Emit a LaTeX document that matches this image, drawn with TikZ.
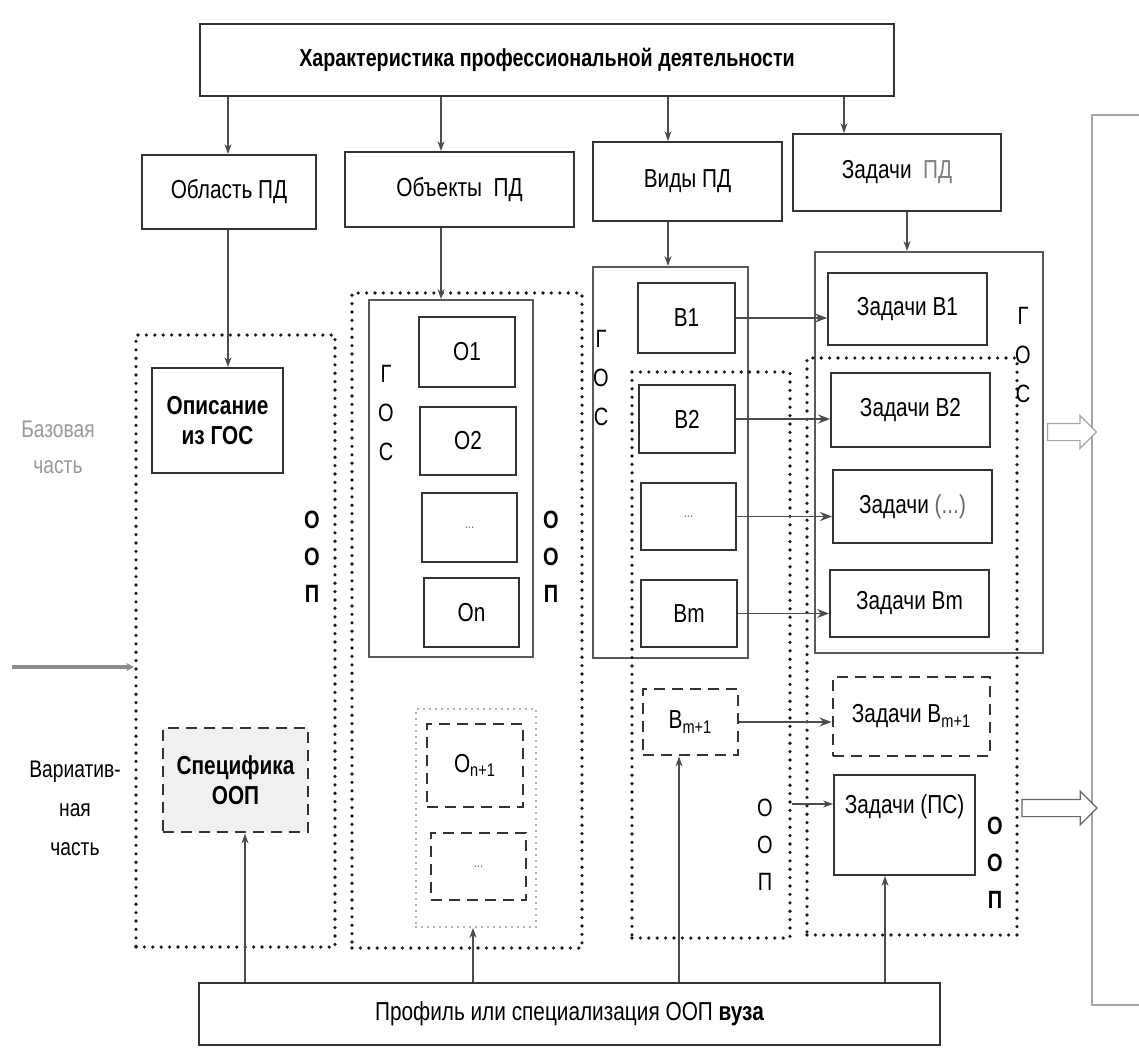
\documentclass[tikz,border=0pt]{standalone}
\usepackage{fontspec}
\setmainfont{Liberation Sans}[FakeStretch=0.8]
\usetikzlibrary{arrows.meta,positioning,calc,shapes.arrows}
\tikzset{
  sz/.style 2 args={minimum width=#1*0.5pt,minimum height=#2*0.5pt},
  blk/.style={draw=black!80,line width=0.9pt,rectangle,inner sep=0pt,align=center,font=\fontsize{13}{15}\selectfont},
  bblk/.style={blk,font=\fontsize{13}{15}\selectfont\bfseries},
  gosblk/.style={draw=black!65,line width=1pt,rectangle,inner sep=0pt},
  oopblk/.style={draw=black!90,line width=1.8pt,line cap=round,dash pattern=on 0pt off 4.2pt,rectangle,inner sep=0pt},
  ooplight/.style={oopblk,line width=0.9pt,draw=black!60,dash pattern=on 0pt off 3pt},
  varblk/.style={blk,line width=1.4pt,dash pattern=on 5.5pt off 3.5pt},
  arr/.style={-{Stealth[length=5pt,width=3.5pt]},line width=0.6pt,draw=black!70},
  harr/.style={arr,line width=0.9pt,-{Stealth[length=6pt,width=4.5pt]}},
  outarr/.style={single arrow,draw=black!60,line width=0.6pt,fill=white,inner xsep=0pt,inner ysep=4pt,text height=0pt,text depth=0pt,single arrow head extend=4pt,single arrow head indent=0pt,minimum height=#1*0.5pt},
  seplin/.style={draw=black!45,line width=1.6pt,-{Stealth[length=4pt,width=4pt]}},
  vlbl/.style={align=center,font=\fontsize{12.5}{19.5}\selectfont},
  olbl/.style={align=center,font=\fontsize{12.5}{18.5}\selectfont\bfseries},
  sidelbl/.style={align=center,font=\fontsize{12}{18}\selectfont}
}

\begin{document}
\begin{tikzpicture}[x=0.5pt,y=-0.5pt]
  \useasboundingbox (0,0) rectangle (1139,1055);

  \node[bblk,sz={694}{72},font=\fontsize{12.3}{16}\selectfont\bfseries] (char) at (547,60) {Характеристика профессиональной деятельности};
  \node[blk,sz={174}{74}] (area) at (229,192) {Область ПД};
  \node[blk,sz={229}{75}] (obj) at (459.5,189.5) {Объекты\ \ ПД};
  \node[blk,sz={189}{79}] (kinds) at (687.5,181.5) {Виды ПД};
  \node[blk,sz={208}{77}] (tasks) at (897,172.5) {Задачи\ \ \textcolor{black!50}{ПД}};
  \node[draw=black!35,line width=0.6pt,inner sep=0pt,sz={60}{890}] (sys) at (1122,560) {};

  % column 1: area of activity
  \node[oopblk,sz={199}{612}] (oop1) at (235.5,641) {};
  \node[bblk,sz={131}{105}] (desc) at (217.5,420.5) {Описание\\из ГОС};
  \node[varblk,sz={145}{104},fill=black!6,font=\fontsize{13}{15}\selectfont\bfseries] (spec) at (235.5,780) {Специфика\\ООП};
  \node[olbl] (oop1l) at (312,557) {О\\О\\П};

  % column 2: objects
  \node[oopblk,sz={230}{655}] (oop2) at (467,620.5) {};
  \node[gosblk,sz={164}{357}] (gos2) at (451,478.5) {};
  \node[blk,sz={96}{70}] (o1) at (467,352) {О1};
  \node[blk,sz={96}{68}] (o2) at (468,441) {О2};
  \node[blk,sz={95}{69},font=\scriptsize,text=black!60] (o3) at (469.5,527.5) {...};
  \node[blk,sz={95}{69}] (on) at (471.5,612.5) {Оn};
  \node[vlbl] (gos2l) at (386,413) {Г\\О\\С};
  \node[olbl] (oop2l) at (551,557) {О\\О\\П};
  \node[ooplight,sz={120}{218}] (var2) at (476,818) {};
  \node[varblk,sz={96}{83}] (on1) at (475,765.5) {О\textsubscript{n+1}};
  \node[varblk,sz={95}{67},font=\scriptsize,text=black!60] (on2) at (478.5,866.5) {...};

  % column 3: kinds
  \node[gosblk,sz={155}{391}] (gos3) at (670.5,462.5) {};
  \node[oopblk,sz={158}{566}] (oop3) at (711,655) {};
  \node[blk,sz={97}{70}] (b1) at (686.5,318) {В1};
  \node[blk,sz={96}{68}] (b2) at (687,419) {В2};
  \node[blk,sz={95}{67},font=\scriptsize,text=black!60] (b3) at (688.5,516.5) {...};
  \node[blk,sz={96}{67}] (bm) at (689,613.5) {Вm};
  \node[vlbl] (gos3l) at (601,378) {Г\\О\\С};
  \node[varblk,sz={95}{66}] (bm1) at (690.5,722) {В\textsubscript{m+1}};
  \node[olbl,font=\fontsize{12.5}{18.5}\selectfont] (oop3l) at (765,845) {О\\О\\П};

  % column 4: tasks
  \node[gosblk,sz={228}{401}] (gos4) at (929,452.5) {};
  \node[oopblk,sz={210}{577}] (oop4) at (912,646.5) {};
  \node[blk,sz={159}{72}] (t1) at (907.5,309) {Задачи В1};
  \node[blk,sz={159}{74}] (t2) at (910.5,410) {Задачи В2};
  \node[blk,sz={159}{73}] (t3) at (912.5,506.5) {Задачи \textcolor{black!60}{(...)}};
  \node[blk,sz={159}{67}] (tm) at (909.5,603.5) {Задачи Вm};
  \node[vlbl] (gos4l) at (1023,355) {Г\\О\\С};
  \node[varblk,sz={157}{79}] (tm1) at (911.5,716.5) {Задачи В\textsubscript{m+1}};
  \node[blk,sz={141}{100},label={[anchor=center,yshift=-16.5pt,font=\fontsize{13}{15}\selectfont]north:Задачи (ПС)}] (tps) at (904.5,825) {};
  \node[olbl] (oop4l) at (995,863) {О\\О\\П};

  \node[blk,sz={741}{62}] (prof) at (569.5,1014) {Профиль или специализация ООП \textbf{вуза}};

  \node[sidelbl,text=black!40] (base) at (58,447) {Базовая\\часть};
  \node[sidelbl,font=\fontsize{12}{19.5}\selectfont] (varp) at (75,808) {Вариатив-\\ная\\часть};
  \coordinate (sepL) at (12,667);
  \draw[seplin] (sepL) -- (sepL -| oop1.west);

  \draw[arr] (char.south -| 228,0) -- (area.north -| 228,0);
  \draw[arr] (char.south -| 441,0) -- (obj.north -| 441,0);
  \draw[arr] (char.south -| 668,0) -- (kinds.north -| 668,0);
  \draw[arr] (char.south -| 844,0) -- (tasks.north -| 844,0);
  \draw[arr] (area.south -| 228,0) -- (desc.north -| 228,0);
  \draw[arr] (obj.south -| 441,0) -- (gos2.north -| 441,0);
  \draw[arr] (kinds.south -| 668,0) -- (gos3.north -| 668,0);
  \draw[arr] (tasks.south -| 907,0) -- (gos4.north -| 907,0);
  \foreach \src/\dst in {b1/t1,b2/t2,b3/t3,bm/tm,bm1/tm1}
    \draw[harr] (\src.east) -- (\src.east -| \dst.west);
  \draw[arr] (oop3.east |- 0,804) -- (tps.west |- 0,804);

  \draw[arr] (prof.north -| 245,0) -- (spec.south -| 245,0);
  \draw[arr] (prof.north -| 473,0) -- (var2.south -| 473,0);
  \draw[arr] (prof.north -| 679,0) -- (bm1.south -| 679,0);
  \draw[arr] (prof.north -| 885,0) -- (tps.south -| 885,0);

  \node[outarr=49,draw=black!35] (out1) at ($(gos4.east |- 0,432)!0.5!(sys.west |- 0,432)$) {};
  \node[outarr=75] (out2) at ($(oop4.east |- 0,808)!0.5!(sys.west |- 0,808)$) {};
\end{tikzpicture}
\end{document}
